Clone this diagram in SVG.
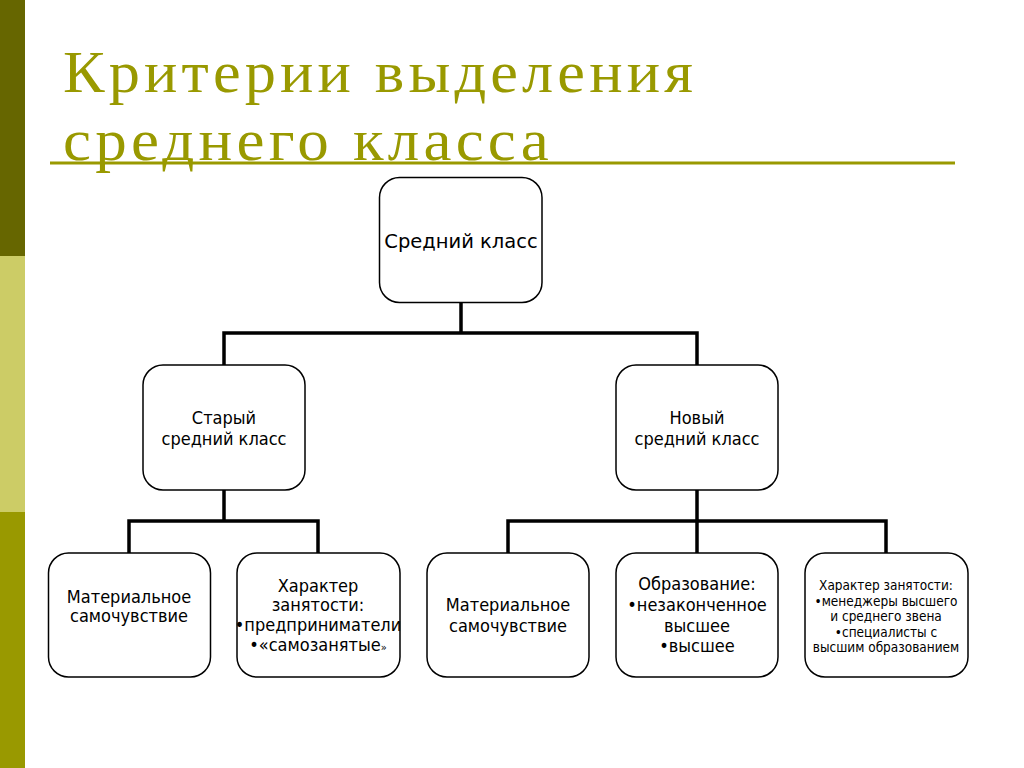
<svg xmlns="http://www.w3.org/2000/svg" width="1024" height="768" viewBox="0 0 1024 768">
<style>
.title{font-family:"Liberation Serif","Times New Roman",serif;font-size:60px;fill:#999900;letter-spacing:4px}
.box{fill:#ffffff;stroke:#000000;stroke-width:1.5}
.t{font-family:"DejaVu Sans Condensed","DejaVu Sans",sans-serif;font-size:18px;fill:#000000;text-anchor:middle}
.big{font-family:"DejaVu Sans","Verdana",sans-serif;font-size:19.5px}
.sm{font-size:13.5px}
.conn{fill:none;stroke:#000000;stroke-width:3.5;stroke-linejoin:miter;stroke-linecap:square}
</style>
<rect x="0" y="0" width="1024" height="768" fill="#ffffff"/>
<rect x="0" y="0" width="25" height="256" fill="#666600"/>
<rect x="0" y="256" width="25" height="256" fill="#cccc66"/>
<rect x="0" y="512" width="25" height="256" fill="#999900"/>
<g id="title">
<text class="title" x="63" y="92" textLength="634" lengthAdjust="spacingAndGlyphs">Критерии выделения</text>
<text class="title" x="63" y="160" textLength="490" lengthAdjust="spacingAndGlyphs">среднего класса</text>
<line x1="50" y1="163" x2="955" y2="163" stroke="#999900" stroke-width="3"/>
</g>
<g id="connectors">
<path class="conn" d="M461,303 V333 M224,333 H697 M224,333 V365 M697,333 V365"/>
<path class="conn" d="M224,490 V521 M129,521 H318 M129,521 V553 M318,521 V553"/>
<path class="conn" d="M697,490 V521 M508,521 H886 M508,521 V553 M697,521 V553 M886,521 V553"/>
</g>
<g id="n-root">
<rect class="box" x="379.5" y="177.5" width="162.5" height="125" rx="20"/>
<text class="t big" x="461" y="248">Средний класс</text>
</g>
<g id="n-old">
<rect class="box" x="143" y="365" width="162" height="125" rx="20"/>
<text class="t" x="224" y="424">Старый</text>
<text class="t" x="224" y="445">средний класс</text>
</g>
<g id="n-new">
<rect class="box" x="616" y="365" width="162" height="125" rx="20"/>
<text class="t" x="697" y="424">Новый</text>
<text class="t" x="697" y="445">средний класс</text>
</g>
<g id="n-old-mat">
<rect class="box" x="48.5" y="553" width="162" height="124" rx="20"/>
<text class="t" x="129" y="603">Материальное</text>
<text class="t" x="129" y="622">самочувствие</text>
</g>
<g id="n-old-job">
<rect class="box" x="237" y="553" width="163" height="124" rx="20"/>
<text class="t" x="318" y="592">Характер</text>
<text class="t" x="318" y="611">занятости:</text>
<text class="t" x="318" y="631">•предприниматели</text>
<text class="t" x="318" y="651">•«самозанятые<tspan font-size="11">»</tspan></text>
</g>
<g id="n-new-mat">
<rect class="box" x="427" y="553" width="162" height="124" rx="20"/>
<text class="t" x="508" y="611">Материальное</text>
<text class="t" x="508" y="632">самочувствие</text>
</g>
<g id="n-new-edu">
<rect class="box" x="616" y="553" width="162" height="124" rx="20"/>
<text class="t" x="697" y="590">Образование:</text>
<text class="t" x="697" y="611">•незаконченное</text>
<text class="t" x="697" y="632">высшее</text>
<text class="t" x="697" y="652">•высшее</text>
</g>
<g id="n-new-job">
<rect class="box" x="805" y="553" width="163" height="124" rx="20"/>
<text class="t sm" x="886" y="590">Характер занятости:</text>
<text class="t sm" x="886" y="606">•менеджеры высшего</text>
<text class="t sm" x="886" y="621">и среднего звена</text>
<text class="t sm" x="886" y="637">•специалисты с</text>
<text class="t sm" x="886" y="652">высшим образованием</text>
</g>
</svg>
